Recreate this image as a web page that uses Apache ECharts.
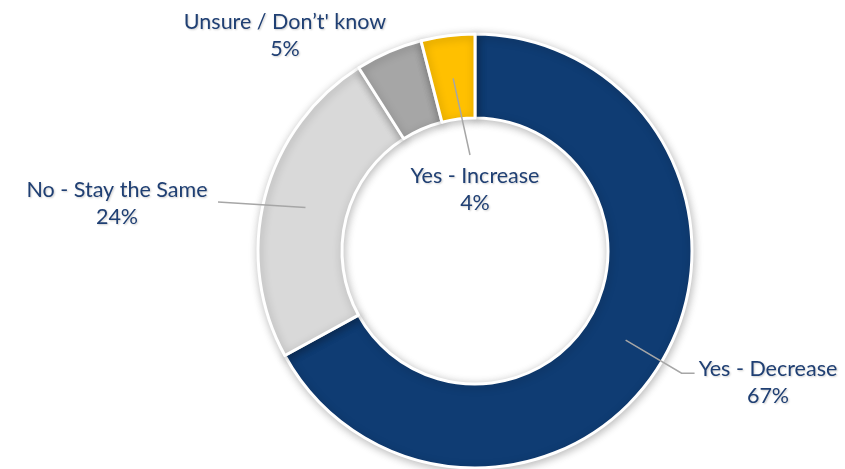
<!DOCTYPE html>
<html>
<head>
<meta charset="utf-8">
<script src="https://cdn.jsdelivr.net/npm/echarts@6/dist/echarts.min.js"></script>
<style>
html,body{margin:0;padding:0;background:#fff;}
#chart{width:845px;height:469px;}
</style>
</head>
<body>
<div id="chart"></div>
<script>
var categories = ['Yes - Decrease', 'No - Stay the Same', 'Unsure / Don\u2019t\' know', 'Yes - Increase'];
var values = [67, 24, 5, 4];
var colors = ['#0F3C73', '#D9D9D9', '#A6A6A6', '#FFC000'];

var CX = 475, CY = 251, R0 = 133, R1 = 217;
var total = values.reduce(function (a, b) { return a + b; }, 0);
var mids = [];
(function () {
  var cum = 0;
  values.forEach(function (v) { mids.push((cum + v / 2) / total * 360); cum += v; });
})();
function polar(r, deg) {
  var a = deg * Math.PI / 180;
  return [CX + r * Math.sin(a), CY - r * Math.cos(a)];
}
// label anchor offsets from centre (layout, not data)
var labelOffsets = [[293, 132], [-358, -47], [-190, -215], [0, -61]];

var chart = echarts.init(document.getElementById('chart'), null, { renderer: 'canvas' });
var baseData = categories.map(function (c, i) {
  return { name: c, value: values[i], itemStyle: { color: colors[i] } };
});
var labelData = categories.map(function (c, i) {
  var d = { name: c, value: values[i] };
  if (i === 2) d.labelLine = { show: false };
  return d;
});
chart.setOption({
  backgroundColor: '#ffffff',
  animation: false,
  series: [{
    type: 'pie',
    z: 2,
    center: [CX, CY],
    radius: [R0, R1],
    startAngle: 90,
    clockwise: true,
    silent: true,
    itemStyle: {
      borderColor: '#ffffff',
      borderWidth: 3,
      shadowBlur: 8,
      shadowColor: 'rgba(0,0,0,0.25)',
      shadowOffsetX: 1,
      shadowOffsetY: 2
    },
    label: { show: false },
    labelLine: { show: false },
    data: baseData
  }, {
    type: 'pie',
    z: 5,
    center: [CX, CY],
    radius: [R0, R1],
    startAngle: 90,
    clockwise: true,
    silent: true,
    avoidLabelOverlap: false,
    itemStyle: { color: 'rgba(0,0,0,0)', borderWidth: 0 },
    label: {
      show: true,
      formatter: '{b}\n{c}%',
      color: '#1F3F73',
      fontFamily: 'Lato, "Open Sans", sans-serif',
      fontSize: 21.5,
      lineHeight: 27,
      align: 'center',
      textShadowColor: 'rgba(0,0,0,0.2)',
      textShadowBlur: 2,
      textShadowOffsetX: 1,
      textShadowOffsetY: 1
    },
    labelLine: {
      show: true,
      lineStyle: { color: '#A6A6A6', width: 1.5 }
    },
    labelLayout: function (params) {
      var i = params.dataIndex;
      var lx = CX + labelOffsets[i][0];
      var ly = CY + labelOffsets[i][1];
      var m = mids[i];
      var pts;
      if (i === 0) {
        var e = polar(240, m);
        pts = [polar(175, m), e, [e[0] + 13, e[1]]];
      } else if (i === 1) {
        pts = [polar(175, m), [lx + 101, ly - 2], [lx + 101, ly - 2]];
      } else if (i === 3) {
        pts = [polar(174, m), [lx - 5, ly - 35], [lx - 5, ly - 35]];
      } else {
        pts = [polar(175, m), polar(175, m), polar(175, m)];
      }
      return { x: lx, y: ly, align: 'center', verticalAlign: 'middle', labelLinePoints: pts };
    },
    data: labelData
  }]
});
</script>
</body>
</html>
